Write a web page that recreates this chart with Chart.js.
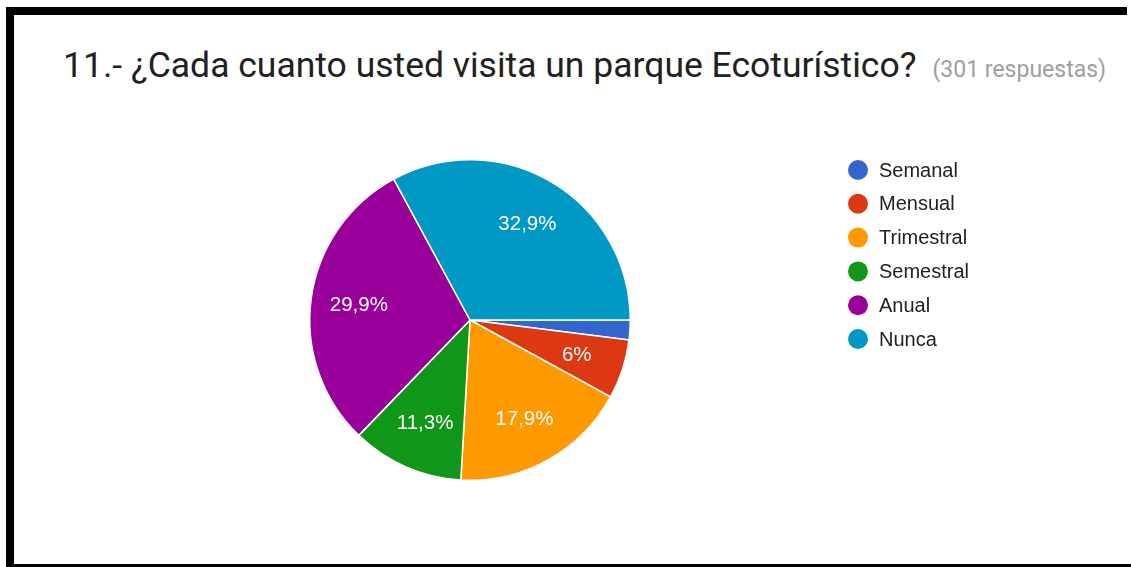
<!DOCTYPE html>
<html>
<head>
<meta charset="utf-8">
<script src="https://cdn.jsdelivr.net/npm/chart.js@4.4.1/dist/chart.umd.min.js"></script>
<style>
  html, body { margin: 0; padding: 0; background: #fff; }
  body { width: 1131px; height: 567px; position: relative; overflow: hidden; }
  .bar { position: absolute; background: #000; }
  #title { position: absolute; left: 63px; top: 44px; font: 35.5px Roboto, sans-serif; color: #212121; white-space: nowrap; }
  #title span { font-size: 23px; color: #9e9e9e; margin-left: 16px; }
  #wrap { position: absolute; left: 0; top: 0; width: 1131px; height: 567px; }
</style>
</head>
<body>
<div class="bar" style="left:6px;top:7px;width:1121px;height:8px"></div>
<div class="bar" style="left:6px;top:7px;width:8px;height:560px"></div>
<div class="bar" style="left:6px;top:564px;width:1125px;height:3px"></div>
<div id="title">11.- ¿Cada cuanto usted visita un parque Ecoturístico?<span>(301 respuestas)</span></div>
<div id="wrap"><canvas id="pie"></canvas></div>
<script>
// responses per answer, 301 total
const categories = ['Semanal', 'Mensual', 'Trimestral', 'Semestral', 'Anual', 'Nunca'];
const responses = [6, 18, 54, 34, 90, 99];
const colors = ['#3366cc', '#dc3912', '#ff9900', '#109618', '#990099', '#0099c6'];

const FONT = '"Liberation Sans", Arial, sans-serif';

const pctText = (v, total) => {
  const p = (v / total * 100).toFixed(1).replace('.', ',');
  return (p.endsWith(',0') ? p.slice(0, -2) : p) + '%';
};

// slice labels at 0.7 radius, small slices left blank (like Google Forms)
const sliceLabels = {
  id: 'sliceLabels',
  afterDatasetsDraw(chart) {
    const ctx = chart.ctx;
    const ds = chart.data.datasets[0];
    const total = ds.data.reduce((a, b) => a + b, 0);
    ctx.save();
    ctx.font = '20.5px ' + FONT;
    ctx.fillStyle = '#fff';
    ctx.textAlign = 'center';
    ctx.textBaseline = 'middle';
    chart.getDatasetMeta(0).data.forEach((arc, i) => {
      if (ds.data[i] / total < 0.03) return;
      const mid = (arc.startAngle + arc.endAngle) / 2;
      const r = arc.outerRadius * 0.7;
      ctx.fillText(pctText(ds.data[i], total), arc.x + Math.cos(mid) * r, arc.y + Math.sin(mid) * r + 1);
    });
    ctx.restore();
  },
};

// legend on the right: coloured dots + labels
const dotLegend = {
  id: 'dotLegend',
  afterDraw(chart) {
    const ctx = chart.ctx;
    const x0 = 858, y0 = 170, step = 33.8;
    ctx.save();
    ctx.font = '20px ' + FONT;
    ctx.textBaseline = 'middle';
    chart.data.labels.forEach((lab, i) => {
      const y = y0 + i * step;
      ctx.beginPath();
      ctx.arc(x0, y, 10, 0, Math.PI * 2);
      ctx.fillStyle = chart.data.datasets[0].backgroundColor[i];
      ctx.fill();
      ctx.fillStyle = '#222';
      ctx.fillText(lab, x0 + 21, y + 1);
    });
    ctx.restore();
  },
};

new Chart(document.getElementById('pie'), {
  type: 'pie',
  data: {
    labels: categories,
    datasets: [{
      data: responses,
      backgroundColor: colors,
      borderColor: '#fff',
      borderWidth: 1.5,
    }],
  },
  options: {
    responsive: true,
    maintainAspectRatio: false,
    animation: false,
    rotation: 90,
    layout: { padding: { left: 309, right: 500, top: 159, bottom: 86 } },
    plugins: { legend: { display: false }, tooltip: { enabled: false } },
  },
  plugins: [sliceLabels, dotLegend],
});
</script>
</body>
</html>
